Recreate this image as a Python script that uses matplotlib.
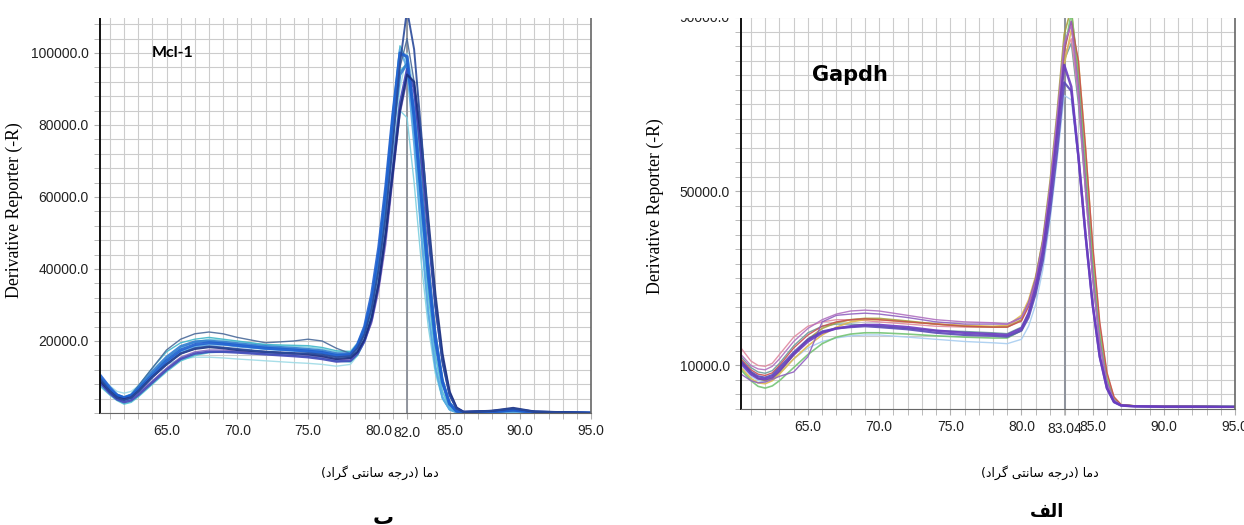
#!/usr/bin/env python
"""Melt-curve derivative plots: Mcl-1 (left, ب) and Gapdh (right, الف)."""

from __future__ import annotations

import matplotlib

matplotlib.use("Agg")
import matplotlib.pyplot as plt
from matplotlib.patches import Rectangle
from matplotlib.ticker import FormatStrFormatter, MultipleLocator


FIG_W, FIG_H = 1244, 525

# ---- Mcl-1 panel -----------------------------------------------------------
MCL_TEMPS = [
    60.3, 61, 61.5, 62, 62.5, 63, 64, 65, 66, 67, 68, 69, 70, 72, 74, 75, 76,
    77, 78, 78.5, 79, 79.5, 80, 80.5, 81, 81.5, 82, 82.5, 83, 83.5, 84, 84.5,
    85, 85.5, 86, 88, 89.5, 91, 95,
]
MCL_A = [9500, 6000, 4200, 3600, 4300, 6000, 10000, 13500, 16500, 18000, 18500, 18200, 17800, 17000, 16500, 16600, 16200, 15500, 15800, 18000, 22000, 29000, 40000, 55000, 75000, 97000, 112000, 101000, 78000, 52000, 30000, 14000, 5000, 1200, 300, 600, 1200, 400, 0]
MCL_B = [10500, 7000, 5000, 4200, 4800, 6500, 10500, 14500, 17500, 19000, 19500, 19200, 18800, 18000, 17500, 17200, 16800, 16000, 16200, 19000, 24000, 33000, 46000, 63000, 83000, 100000, 99000, 82000, 60000, 38000, 20000, 8500, 2500, 500, 100, 300, 800, 200, 0]
MCL_C = [8500, 5500, 3800, 3000, 3500, 5000, 8500, 12000, 15000, 16500, 17000, 17000, 16800, 16300, 15800, 15500, 15000, 14300, 14500, 16500, 20000, 26000, 36000, 50000, 68000, 86000, 95500, 90000, 72000, 50000, 30000, 15000, 5500, 1300, 300, 500, 1000, 300, 0]
MCL_D = [9000, 6500, 5000, 4500, 5200, 7000, 11000, 15000, 18000, 19800, 20500, 20200, 19800, 19000, 18500, 18300, 17800, 17000, 17200, 19500, 24000, 32000, 44000, 58000, 73000, 84000, 82000, 64000, 42000, 24000, 11000, 4000, 1000, 200, 0, 0, 0, 0, 0]
MCL_E = [7500, 5000, 3500, 2500, 3000, 4500, 8000, 11500, 14500, 16000, 16800, 17000, 17000, 16500, 16000, 15800, 15300, 14500, 14200, 16000, 20000, 28000, 40000, 56000, 76000, 95000, 97000, 80000, 56000, 33000, 16000, 6000, 1500, 300, 0, 0, 300, 0, 0]
MCL_F = [9000, 6000, 4500, 4000, 5000, 7500, 12500, 17500, 20500, 22000, 22500, 22000, 21000, 19500, 20000, 20500, 20000, 18000, 16500, 18000, 22000, 30000, 42000, 58000, 78000, 96000, 104000, 92000, 68000, 43000, 23000, 9500, 3000, 600, 100, 200, 600, 100, 0]
MCL_G = [8000, 5500, 4000, 3400, 4000, 6000, 10000, 14000, 17000, 18500, 19000, 19000, 18500, 17800, 17300, 17000, 16500, 15800, 15500, 17500, 22000, 30000, 43000, 61000, 82000, 101000, 96000, 75000, 50000, 28000, 13000, 4500, 1000, 200, 0, 100, 300, 0, 0]
MCL_H = [8000, 5200, 4000, 3500, 4000, 5500, 9000, 12500, 15500, 17000, 17500, 17500, 17200, 16800, 16200, 16000, 15500, 14800, 15000, 16800, 20000, 25000, 34000, 47000, 65000, 83000, 92500, 89000, 72000, 50000, 30000, 14500, 5000, 1200, 300, 400, 800, 200, 0]
MCL_I = [10000, 7500, 6000, 5500, 6000, 7500, 10500, 13500, 15000, 15500, 15500, 15300, 15000, 14500, 14000, 13800, 13500, 13000, 13500, 16000, 20000, 27000, 38000, 53000, 72000, 90000, 100000, 90000, 65000, 40000, 20000, 8000, 2000, 400, 0, 0, 0, 0, 0]
MCL_J = [9500, 6500, 5000, 4300, 5000, 7000, 11500, 15500, 18500, 19800, 20000, 19700, 19300, 18500, 18000, 17700, 17300, 16500, 16500, 18500, 23000, 31000, 43000, 59000, 78000, 94000, 97000, 84000, 62000, 40000, 21500, 9000, 2800, 600, 100, 300, 900, 200, 0]
MCL_K = [8500, 6000, 4800, 4400, 5200, 7500, 12500, 17000, 19500, 20500, 21000, 20500, 20000, 19000, 18800, 18700, 18200, 17300, 17000, 19000, 23500, 32000, 45000, 63000, 84000, 102000, 98000, 76000, 50000, 28000, 12500, 4000, 900, 100, 0, 0, 0, 0, 0]
MCL_L = [9000, 6000, 4300, 3800, 4300, 6000, 10000, 13500, 16500, 17800, 18300, 18000, 17500, 17000, 16600, 16300, 15800, 15000, 15300, 17000, 20500, 26500, 36000, 50000, 67000, 84000, 94000, 92000, 76000, 54000, 33000, 16500, 6000, 1500, 300, 600, 1400, 400, 0]
MCL_SERIES = [MCL_I, MCL_D, MCL_K, MCL_E, MCL_H, MCL_G, MCL_F, MCL_J, MCL_C, MCL_B, MCL_L, MCL_A]
MCL_COLORS = ["#9fdbe6", "#7fd0e0", "#3fb6c9", "#4fc3d0", "#8a6cc0", "#5aa9e6", "#4a6a9a", "#2f7bd0", "#3f46b8", "#1f5fd0", "#1a2f80", "#2a4a9a"]
MCL_WIDTHS = [1.0, 1.0, 1.0, 1.2, 1.0, 1.6, 1.0, 2.0, 1.8, 2.2, 1.6, 1.4]

# ---- Gapdh panel -----------------------------------------------------------
GAP_TEMPS = [
    60.3, 61, 61.5, 62, 62.5, 63, 64, 65, 66, 67, 68, 69, 70, 72, 74, 76, 78,
    79, 80, 80.5, 81, 81.5, 82, 82.5, 83, 83.5, 84, 84.5, 85, 85.5, 86, 86.5,
    87, 88, 90, 92, 95,
]
GAP_1 = [12500, 10000, 9200, 9000, 9800, 11500, 15500, 18500, 20500, 21800, 22500, 22700, 22500, 21500, 20500, 20000, 19800, 19500, 21000, 24000, 29000, 38000, 51000, 67000, 84000, 88000, 72000, 50000, 30000, 15000, 6000, 2000, 900, 700, 600, 600, 500]
GAP_2 = [10500, 8000, 7000, 6800, 7300, 8800, 12500, 15500, 17500, 18500, 19000, 19300, 19300, 18800, 18000, 17500, 17200, 17000, 18500, 22000, 28000, 36000, 48000, 63000, 79000, 74000, 58000, 40000, 24000, 12000, 4800, 1600, 800, 600, 500, 500, 500]
GAP_3 = [11000, 8500, 7500, 7200, 7800, 9500, 13000, 16000, 17800, 18500, 18800, 19000, 18800, 18300, 17500, 17000, 16800, 16600, 18000, 21000, 26500, 34000, 45000, 59000, 75000, 73000, 58000, 40000, 24000, 12000, 4800, 1600, 800, 600, 500, 500, 500]
GAP_4 = [11000, 8500, 7000, 6500, 7000, 8500, 12500, 16000, 18500, 19800, 20500, 20800, 20800, 20200, 19500, 19000, 18800, 18800, 20500, 24000, 30000, 39000, 52000, 68000, 86000, 92000, 76000, 53000, 32000, 16000, 6500, 2200, 900, 700, 600, 600, 500]
GAP_5 = [9500, 7000, 6000, 5800, 6500, 8000, 11500, 14500, 17000, 18800, 20000, 20500, 20500, 20000, 19500, 19200, 19000, 19200, 21500, 25000, 30500, 38500, 50000, 64000, 79000, 87000, 80000, 60000, 37000, 19000, 8000, 2600, 1000, 700, 600, 600, 500]
GAP_6 = [9000, 6500, 5200, 4800, 5300, 6500, 9500, 12500, 15000, 16500, 17200, 17500, 17500, 17200, 16800, 16500, 16300, 16300, 18000, 21500, 27000, 35500, 48000, 64000, 82000, 91000, 78000, 56000, 34000, 17500, 7000, 2300, 900, 700, 700, 700, 600]
GAP_7 = [10000, 7500, 6500, 6200, 6800, 8200, 11500, 14000, 15500, 16300, 16800, 17000, 17000, 16500, 16000, 15500, 15200, 15000, 16000, 19000, 24000, 32000, 43000, 57000, 72000, 71000, 57000, 40000, 24000, 12000, 4800, 1600, 800, 600, 500, 500, 500]
GAP_8 = [11500, 9000, 8000, 7700, 8300, 10000, 14000, 17000, 19000, 20000, 20500, 20700, 20500, 20000, 19500, 19000, 18800, 18800, 20200, 23500, 29000, 37500, 50000, 65000, 82000, 89000, 80000, 60000, 38000, 20000, 8500, 2800, 1000, 700, 600, 600, 500]
GAP_9 = [8000, 6500, 6000, 6200, 6800, 7500, 8500, 12000, 20000, 21500, 21800, 22000, 21800, 21000, 20000, 19500, 19500, 19500, 21000, 24500, 30000, 38500, 50500, 66000, 83000, 89000, 74000, 52000, 31000, 15500, 6200, 2000, 900, 700, 600, 600, 500]
GAP_10 = [14000, 11000, 10000, 9800, 10500, 12500, 16500, 19000, 20000, 20500, 20500, 20300, 20000, 19500, 19000, 18800, 18800, 19000, 21000, 24500, 30000, 38000, 50000, 65000, 81000, 85000, 72000, 51000, 31000, 15500, 6200, 2000, 900, 700, 600, 600, 500]
GAP_11 = [12000, 9500, 8500, 8200, 8800, 10500, 14500, 17500, 19000, 19500, 19500, 19300, 19000, 18500, 18000, 17800, 17500, 17300, 18800, 22000, 27500, 36000, 48000, 63000, 80000, 84000, 70000, 50000, 30000, 15000, 6000, 2000, 900, 700, 600, 600, 500]
GAP_SERIES = [GAP_7, GAP_11, GAP_10, GAP_5, GAP_4, GAP_6, GAP_8, GAP_9, GAP_1, GAP_3, GAP_2]
GAP_COLORS = ["#a8cdf0", "#6a9a9a", "#e08aa0", "#e0b850", "#a8a040", "#74c474", "#c85050", "#9060c0", "#b070c0", "#5a4ab8", "#6a3cc0"]
GAP_WIDTHS = [1.0, 1.0, 1.0, 1.2, 1.2, 1.2, 1.0, 1.0, 1.0, 1.6, 1.8]

TICK_FONT = ["Liberation Sans Narrow", "Liberation Sans", "DejaVu Sans"]


def _shape_persian() -> tuple[str, str, str]:
    # presentation forms in visual (left-to-right) order, since matplotlib
    # does not shape or reorder Arabic script
    dama = "\uFE8E\uFEE3\uFEA9"
    daraje = "\uFEEA\uFE9F\uFEAD\uFEA9"
    santi = "\uFBFD\uFE98\uFEE7\uFE8E\uFEB3"
    gerad = "\uFEA9\uFE8D\uFEAE\uFB94"
    xlabel = f"({gerad} {santi} {daraje}) {dama}"
    be = "\uFE8F"
    alef = "\uFED2\uFEDF\uFE8D"
    return xlabel, be, alef


def _fx(px: float) -> float:
    return px / FIG_W


def _fy(py: float) -> float:
    return 1.0 - py / FIG_H


def _style_axes(ax, ylim, yticks, yminor, marker, marker_label) -> None:
    ax.set_xlim(60.3, 95.0)
    ax.set_ylim(*ylim)
    xticks = [65, 70, 75, 80, marker, 85, 90, 95]
    labels = [f"{t:.1f}" for t in xticks]
    labels[4] = marker_label
    ax.set_xticks(xticks)
    ax.set_xticklabels(labels)
    ax.xaxis.set_minor_locator(MultipleLocator(1))
    ax.set_yticks(yticks)
    ax.yaxis.set_major_formatter(FormatStrFormatter("%.1f"))
    ax.yaxis.set_minor_locator(MultipleLocator(yminor))
    ax.grid(True, which="both", color="#cccccc", linewidth=0.8)
    ax.set_axisbelow(True)
    ax.tick_params(which="both", direction="out", length=4, color="#b0b0b0",
                   labelsize=10, pad=4, labelcolor="#222222")
    # the marker temperature label sits a little lower than the others
    ax.xaxis.get_major_ticks()[4].set_pad(5.5)
    ax.spines["top"].set_visible(False)
    ax.spines["left"].set_color("#111111")
    ax.spines["left"].set_linewidth(1.4)
    ax.spines["bottom"].set_color("#666666")
    ax.spines["right"].set_color("#666666")
    ax.spines["right"].set_linewidth(1.2)
    ax.axvline(marker, color="#8a8f98", linewidth=1.3, zorder=1.5)


def main() -> int:
    plt.rcParams["font.family"] = TICK_FONT
    fig = plt.figure(figsize=(FIG_W / 100, FIG_H / 100), dpi=100)
    xlabel, be, alef = _shape_persian()

    ax_l = fig.add_axes([_fx(100), _fy(413), 491 / FIG_W, 396 / FIG_H])
    for values, color, lw in zip(MCL_SERIES, MCL_COLORS, MCL_WIDTHS, strict=True):
        ax_l.plot(MCL_TEMPS, values, color=color, linewidth=lw, alpha=0.9)
    _style_axes(ax_l, (0, 110000), [20000, 40000, 60000, 80000, 100000],
                4000, 82.0, "82.0")
    ax_l.text(0.106, 0.909, "Mcl-1", transform=ax_l.transAxes, fontsize=11.5,
              fontweight="bold", family=["Lato", "DejaVu Sans"], va="center")

    ax_r = fig.add_axes([_fx(741), _fy(409), 494 / FIG_W, 392 / FIG_H])
    for values, color, lw in zip(GAP_SERIES, GAP_COLORS, GAP_WIDTHS, strict=True):
        ax_r.plot(GAP_TEMPS, values, color=color, linewidth=lw, alpha=0.9)
    _style_axes(ax_r, (0, 90000), [10000, 50000, 90000], 10000 / 3, 83.04, "83.04")
    ax_r.text(0.144, 0.852, "Gapdh", transform=ax_r.transAxes, fontsize=15,
              fontweight="bold", family="DejaVu Sans", va="center")

    for x, y in ((14, 210), (655, 206)):
        fig.text(_fx(x), _fy(y), "Derivative Reporter (-R)", rotation=90,
                 family=["Liberation Serif", "DejaVu Serif"], fontsize=12.8,
                 ha="center", va="center")
    for x in (380, 1040):
        fig.text(_fx(x), _fy(473), xlabel, family="DejaVu Sans", fontsize=9,
                 ha="center", va="center")
    fig.text(_fx(383), _fy(518), be, family="DejaVu Sans", fontsize=15,
             fontweight="bold", ha="center", va="center")
    fig.text(_fx(1047), _fy(512), alef, family="DejaVu Sans", fontsize=13,
             fontweight="bold", ha="center", va="center")

    # the source screenshot is cut off just above the plot area
    fig.add_artist(Rectangle((0, _fy(18)), 1, 18 / FIG_H, transform=fig.transFigure,
                             facecolor="white", edgecolor="none", zorder=10))

    fig.savefig("out.png", dpi=100)
    plt.close(fig)
    return 0


if __name__ == "__main__":
    raise SystemExit(main())
